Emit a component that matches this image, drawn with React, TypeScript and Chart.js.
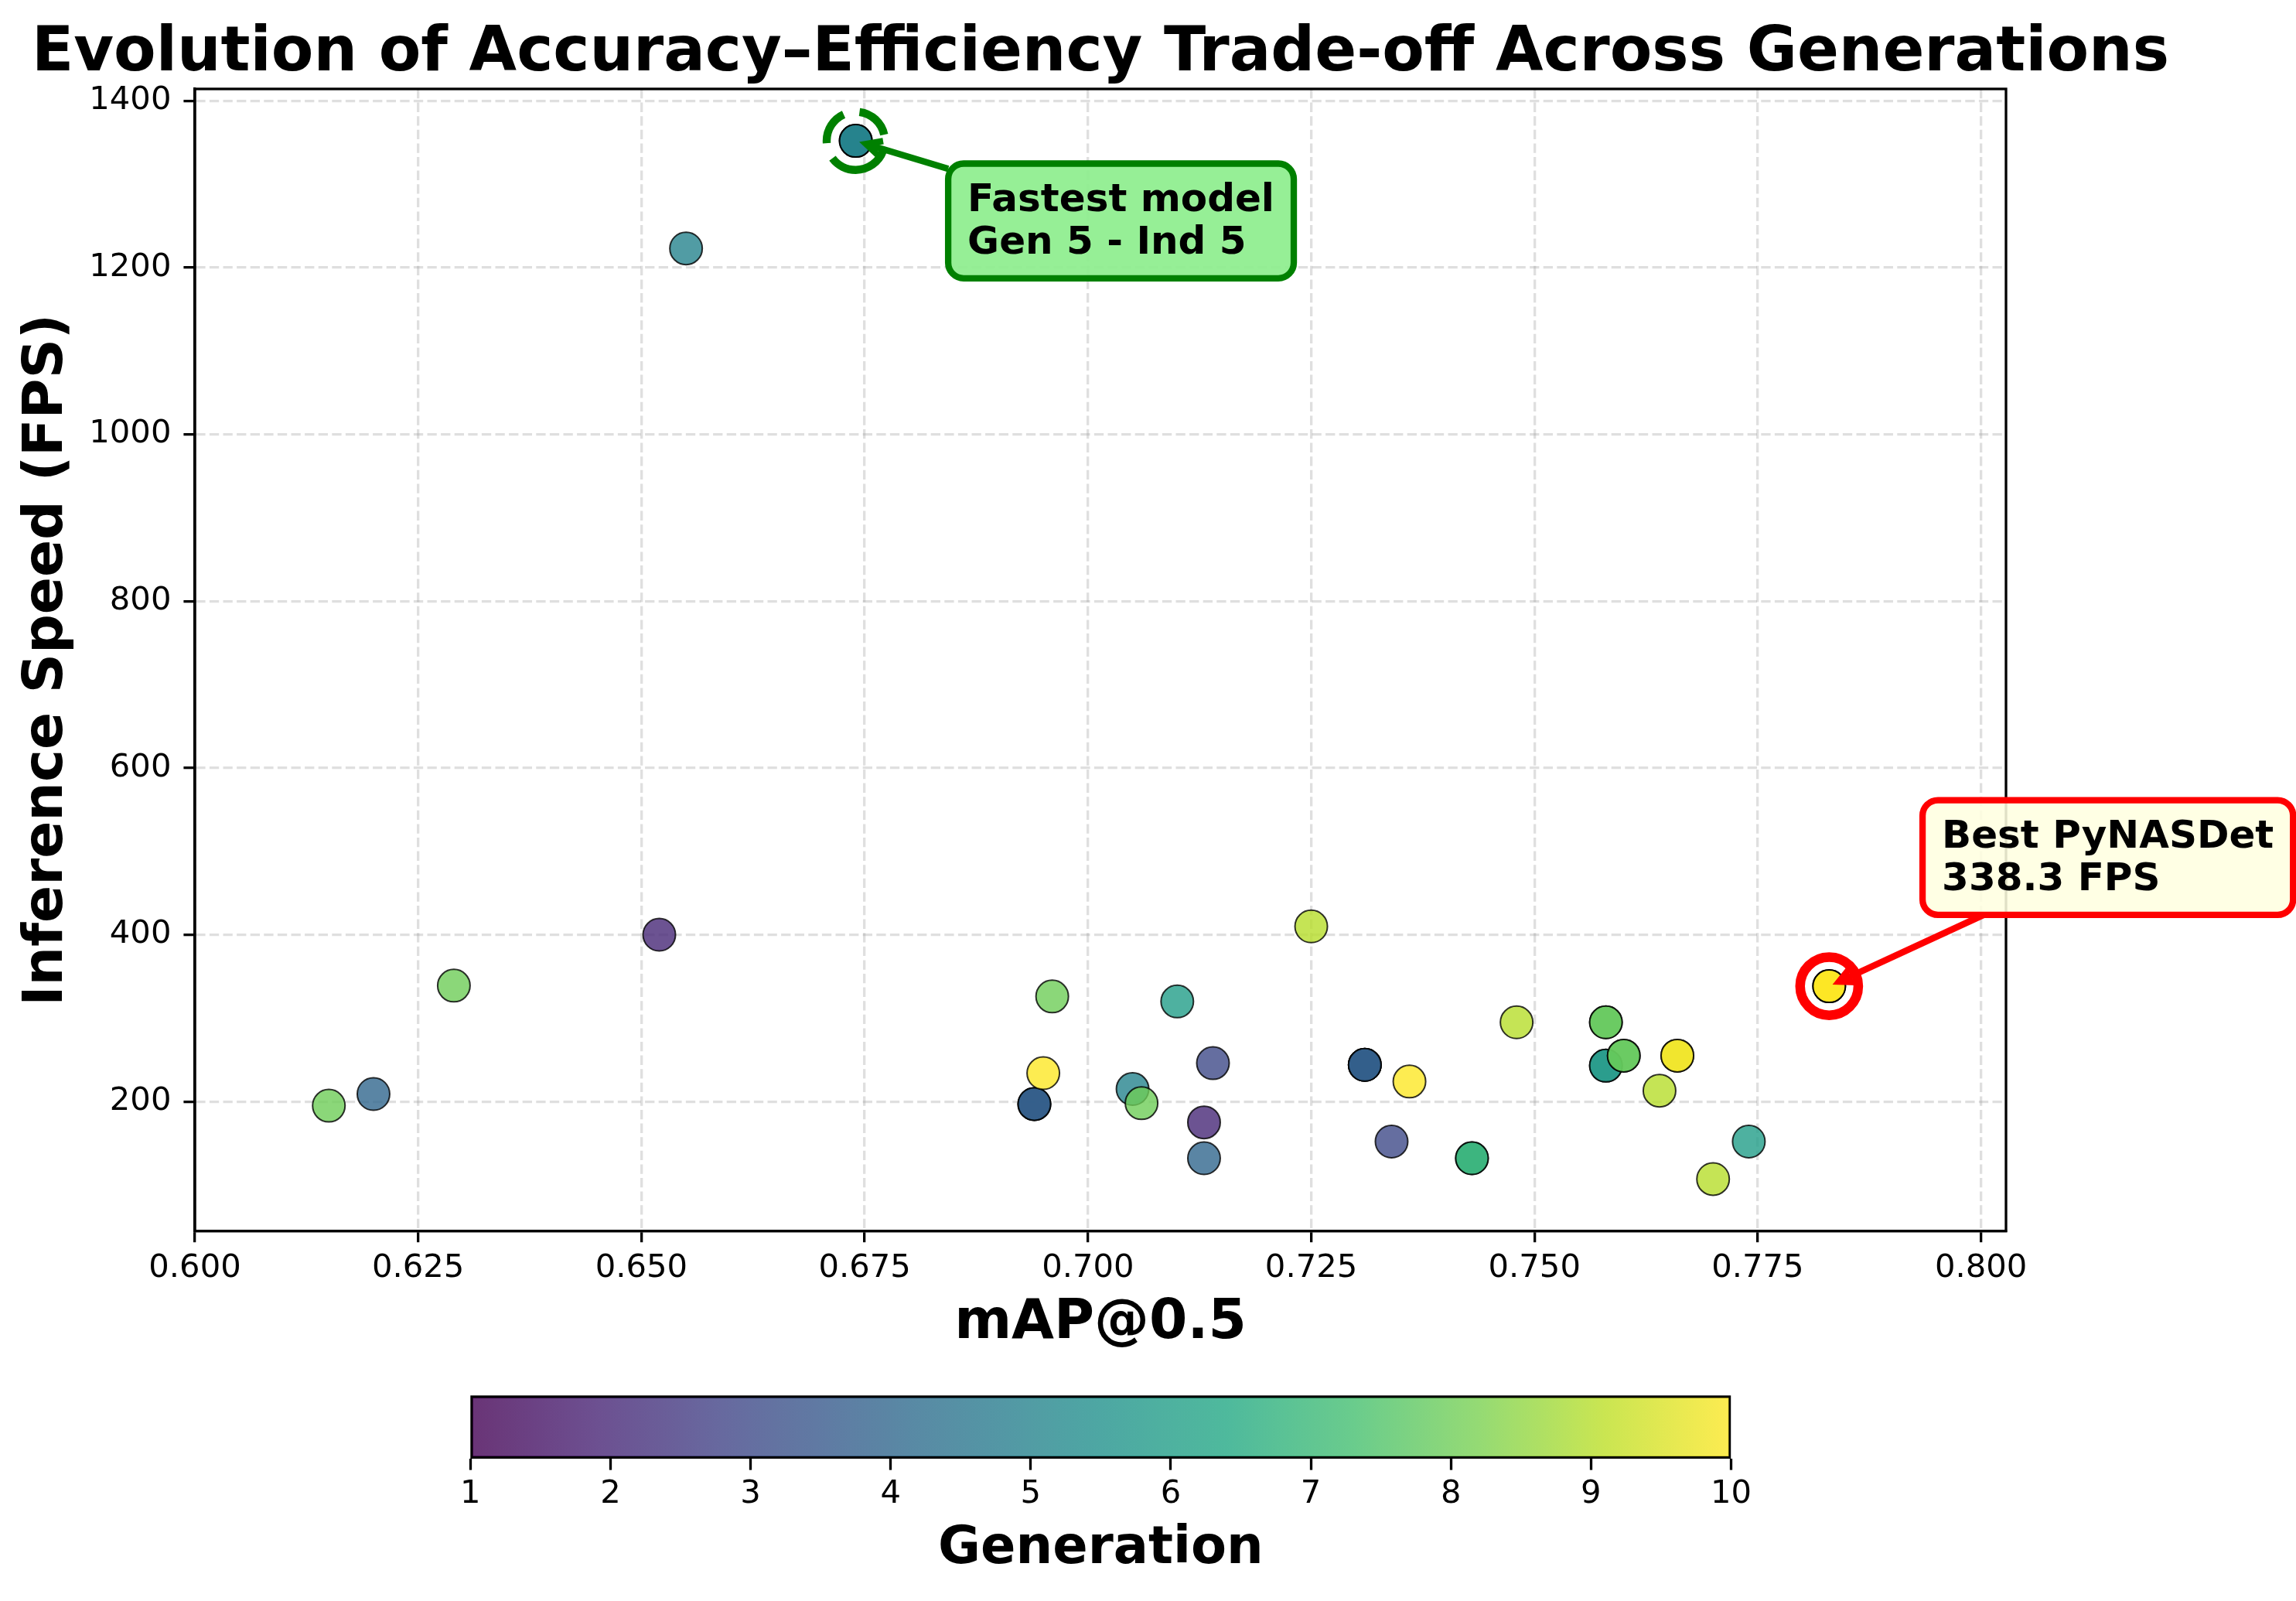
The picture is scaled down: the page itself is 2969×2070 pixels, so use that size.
import React, { useEffect, useRef } from "react";
import { Chart, registerables } from "chart.js";

Chart.register(...registerables);

const FONT = "'DejaVu Sans', sans-serif";
Chart.defaults.font.family = FONT;

// ---------------- data ----------------
// individuals, in the order they were plotted (by generation)
const mapValues = [
  0.694, 0.731,
  0.652, 0.713, 0.731,
  0.714, 0.734, 0.694, 0.731,
  0.620, 0.713, 0.694, 0.731,
  0.655, 0.674, 0.705, 0.758,
  0.710, 0.774, 0.743, 0.758,
  0.743, 0.758, 0.760,
  0.629, 0.615, 0.696, 0.706, 0.758, 0.760,
  0.725, 0.748, 0.764, 0.770, 0.766,
  0.695, 0.736, 0.766, 0.783,
];
const fpsValues = [
  197, 244,
  400, 175, 244,
  246, 152, 197, 244,
  209, 132, 197, 244,
  1223, 1352, 215, 243,
  320, 152, 132, 243,
  132, 295, 255,
  339, 195, 326, 198, 295, 255,
  410, 295, 213, 107, 255,
  234, 224, 255, 338.3,
];
const generations = [
  1, 1,
  2, 2, 2,
  3, 3, 3, 3,
  4, 4, 4, 4,
  5, 5, 5, 5,
  6, 6, 6, 6,
  7, 7, 7,
  8, 8, 8, 8, 8, 8,
  9, 9, 9, 9, 9,
  10, 10, 10, 10,
];

const xTickValues = [0.6, 0.625, 0.65, 0.675, 0.7, 0.725, 0.75, 0.775, 0.8];
const yTickValues = [200, 400, 600, 800, 1000, 1200, 1400];
const generationTicks = [1, 2, 3, 4, 5, 6, 7, 8, 9, 10];
const xLimits = [0.6, 0.8028];
const yLimits = [44.75, 1414.25];

// highlighted individuals
const highlightLabels = [
  ["Fastest model", "Gen 5 - Ind 5"],
  ["Best PyNASDet", "338.3 FPS"],
];
const highlightMap = [0.674, 0.783];
const highlightFps = [1352, 338.3];
const highlightGen = [5, 10];
const highlightTextMap = [0.7037, 0.8142];
const highlightTextFps = [1256, 492.6];

const TITLE = "Evolution of Accuracy\u2013Efficiency Trade-off Across Generations";

// ---------------- styles ----------------
const W = 2969;
const H = 2070;
const CBAR_TOP = 1700;
const CBAR_H = 370;

const highlightStyles = [
  { color: "#008000", face: "rgba(144,238,144,0.95)", ringWidth: 10.4, dash: [46, 21] },
  { color: "#ff0000", face: "rgba(255,255,224,0.88)", ringWidth: 12.5, dash: [] as number[] },
];

const VIRIDIS = [
  [68, 1, 84], [72, 36, 117], [65, 68, 135], [53, 95, 141], [42, 120, 142],
  [33, 145, 140], [34, 168, 132], [68, 191, 112], [122, 209, 81], [189, 223, 38], [253, 231, 37],
];
function viridis(t: number): number[] {
  const c = Math.max(0, Math.min(1, t)) * 10;
  const i = Math.min(9, Math.floor(c));
  const f = c - i;
  return VIRIDIS[i].map((v, k) => Math.round(v + (VIRIDIS[i + 1][k] - v) * f));
}
const genMin = Math.min(...generations);
const genMax = Math.max(...generations);
function genColor(g: number, a: number): string {
  const [r, gg, b] = viridis((g - genMin) / (genMax - genMin));
  return `rgba(${r},${gg},${b},${a})`;
}

function roundedRect(ctx: CanvasRenderingContext2D, x: number, y: number, w: number, h: number, r: number) {
  ctx.beginPath();
  ctx.moveTo(x + r, y);
  ctx.lineTo(x + w - r, y);
  ctx.arcTo(x + w, y, x + w, y + r, r);
  ctx.lineTo(x + w, y + h - r);
  ctx.arcTo(x + w, y + h, x + w - r, y + h, r);
  ctx.lineTo(x + r, y + h);
  ctx.arcTo(x, y + h, x, y + h - r, r);
  ctx.lineTo(x, y + r);
  ctx.arcTo(x, y, x + r, y, r);
  ctx.closePath();
}

const decorPlugin = {
  id: "decor",
  afterDatasetsDraw(chart: any) {
    const { ctx, chartArea: a, scales } = chart;
    const xs = scales.x;
    const ys = scales.y;
    // frame (all four spines)
    ctx.save();
    ctx.strokeStyle = "#000";
    ctx.lineWidth = 3.3;
    ctx.setLineDash([]);
    ctx.strokeRect(a.left, a.top, a.right - a.left, a.bottom - a.top);
    ctx.restore();

    highlightLabels.forEach((lines, i) => {
      const st = highlightStyles[i];
      const px = xs.getPixelForValue(highlightMap[i]);
      const py = ys.getPixelForValue(highlightFps[i]);
      // ring
      ctx.save();
      ctx.strokeStyle = st.color;
      ctx.lineWidth = st.ringWidth;
      ctx.setLineDash(st.dash);
      ctx.beginPath();
      ctx.arc(px, py, 37.6, Math.PI / 2, Math.PI / 2 - 2 * Math.PI, true);
      ctx.stroke();
      ctx.restore();

      // box geometry
      ctx.save();
      ctx.font = `bold 50px ${FONT}`;
      const tw = Math.max(...lines.map((l) => ctx.measureText(l).width));
      const bw = tw + 50;
      const bh = 148.3;
      const cx = xs.getPixelForValue(highlightTextMap[i]);
      const cy = ys.getPixelForValue(highlightTextFps[i]);

      // arrow
      const dx = px - cx;
      const dy = py - cy;
      const t = Math.min(bw / 2 / Math.abs(dx), bh / 2 / Math.abs(dy));
      const sx = cx + dx * t;
      const sy = cy + dy * t;
      const len = Math.hypot(dx, dy);
      const ux = dx / len;
      const uy = dy / len;
      const tipX = px - ux * 14;
      const tipY = py - uy * 14;
      ctx.strokeStyle = st.color;
      ctx.lineWidth = 8.3;
      ctx.lineCap = "butt";
      ctx.lineJoin = "miter";
      ctx.beginPath();
      ctx.moveTo(sx, sy);
      ctx.lineTo(tipX, tipY);
      ctx.stroke();
      const nx = -uy;
      const ny = ux;
      ctx.beginPath();
      ctx.moveTo(tipX - ux * 20 + nx * 10, tipY - uy * 20 + ny * 10);
      ctx.lineTo(tipX, tipY);
      ctx.lineTo(tipX - ux * 20 - nx * 10, tipY - uy * 20 - ny * 10);
      ctx.stroke();

      // box
      roundedRect(ctx, cx - bw / 2, cy - bh / 2, bw, bh, 20);
      ctx.fillStyle = st.face;
      ctx.fill();
      ctx.lineWidth = 8.3;
      ctx.strokeStyle = st.color;
      ctx.stroke();

      // text
      ctx.fillStyle = "#000";
      ctx.textAlign = "left";
      ctx.textBaseline = "alphabetic";
      ctx.fillText(lines[0], cx - bw / 2 + 25, cy - 12.5);
      ctx.fillText(lines[1], cx - bw / 2 + 25, cy + 42);
      ctx.restore();
    });
  },
  afterDraw(chart: any) {
    const { ctx, chartArea: a } = chart;
    ctx.save();
    ctx.font = `bold 79.5px ${FONT}`;
    ctx.fillStyle = "#000";
    ctx.textAlign = "center";
    ctx.textBaseline = "alphabetic";
    ctx.fillText(TITLE, (a.left + a.right) / 2, 90.8);
    ctx.restore();
  },
};

function mainConfig(): any {
  const tickFont = { family: FONT, size: 41.7 };
  return {
    type: "scatter",
    data: {
      datasets: [
        {
          label: "highlighted",
          order: 0,
          data: highlightMap.map((x, i) => ({ x, y: highlightFps[i] })),
          pointBackgroundColor: highlightGen.map((g) => genColor(g, 1)),
          pointBorderColor: "#000",
          pointBorderWidth: 2,
          pointRadius: 21,
        },
        {
          label: "individuals",
          order: 1,
          data: mapValues.map((x, i) => ({ x, y: fpsValues[i] })),
          pointBackgroundColor: generations.map((g) => genColor(g, 0.8)),
          pointBorderColor: "rgba(0,0,0,0.8)",
          pointBorderWidth: 2,
          pointRadius: 21,
        },
      ],
    },
    options: {
      animation: false,
      responsive: false,
      devicePixelRatio: 1,
      events: [],
      layout: { padding: { left: 0, top: 115, right: 375, bottom: H - 1591.6 - 162.6 } },
      plugins: {
        legend: { display: false },
        tooltip: { enabled: false },
        title: { display: false },
      },
      scales: {
        x: {
          type: "linear",
          min: xLimits[0],
          max: xLimits[1],
          afterBuildTicks: (s: any) => {
            s.ticks = xTickValues.map((v) => ({ value: v }));
          },
          afterFit: (s: any) => {
            s.height = 162.6;
          },
          ticks: {
            callback: (v: any) => Number(v).toFixed(3),
            font: tickFont,
            color: "#000",
            padding: 9,
            maxRotation: 0,
            autoSkip: false,
          },
          grid: {
            color: "rgba(150,150,150,0.3)",
            lineWidth: 3.3,
            tickColor: "#000",
            tickWidth: 3.3,
            tickLength: 14.6,
          },
          border: { display: true, color: "#000", width: 3.3, dash: [12.3, 5.3] },
          title: {
            display: true,
            text: "mAP@0.5",
            font: { family: FONT, size: 71, weight: "bold" },
            color: "#000",
            padding: { top: 0, bottom: 0 },
          },
        },
        y: {
          type: "linear",
          min: yLimits[0],
          max: yLimits[1],
          afterBuildTicks: (s: any) => {
            s.ticks = yTickValues.map((v) => ({ value: v }));
          },
          afterFit: (s: any) => {
            s.width = 252;
          },
          ticks: {
            callback: (v: any) => String(v),
            font: tickFont,
            color: "#000",
            padding: 16,
            autoSkip: false,
          },
          grid: {
            color: "rgba(150,150,150,0.3)",
            lineWidth: 3.3,
            tickColor: "#000",
            tickWidth: 3.3,
            tickLength: 14.6,
          },
          border: { display: true, color: "#000", width: 3.3, dash: [12.3, 5.3] },
          title: {
            display: true,
            text: "Inference Speed (FPS)",
            font: { family: FONT, size: 71, weight: "bold" },
            color: "#000",
            padding: { top: 19, bottom: 0 },
          },
        },
      },
    },
    plugins: [decorPlugin],
  };
}

function cbarConfig(): any {
  return {
    type: "bar",
    data: {
      labels: ["Generation"],
      datasets: [
        {
          data: [[genMin, genMax]],
          backgroundColor: (c: any) => {
            const chart = c.chart;
            const xs = chart.scales && chart.scales.x;
            if (!chart.chartArea || !xs) return genColor(genMin, 0.8);
            const x0 = xs.getPixelForValue(genMin);
            const x1 = xs.getPixelForValue(genMax);
            const g = chart.ctx.createLinearGradient(x0, 0, x1, 0);
            for (let k = 0; k <= 40; k++) {
              const t = k / 40;
              g.addColorStop(t, genColor(genMin + t * (genMax - genMin), 0.8));
            }
            return g;
          },
          borderColor: "#000",
          borderWidth: 3.3,
          borderSkipped: false,
          barPercentage: 1,
          categoryPercentage: 1,
        },
      ],
    },
    options: {
      indexAxis: "y",
      animation: false,
      responsive: false,
      devicePixelRatio: 1,
      events: [],
      layout: { padding: { left: 608.3, right: W - 2238.4, top: 104.3, bottom: 0 } },
      plugins: { legend: { display: false }, tooltip: { enabled: false } },
      scales: {
        x: {
          type: "linear",
          min: genMin,
          max: genMax,
          afterBuildTicks: (s: any) => {
            s.ticks = generationTicks.map((v) => ({ value: v }));
          },
          afterFit: (s: any) => {
            s.height = CBAR_H - 186;
          },
          ticks: {
            callback: (v: any) => String(v),
            font: { family: FONT, size: 41.7 },
            color: "#000",
            padding: 7,
            maxRotation: 0,
            autoSkip: false,
          },
          grid: {
            drawOnChartArea: false,
            drawTicks: true,
            tickColor: "#000",
            tickWidth: 3.3,
            tickLength: 14.6,
          },
          border: { display: false },
          title: {
            display: true,
            text: "Generation",
            font: { family: FONT, size: 67, weight: "bold" },
            color: "#000",
            padding: { top: 0, bottom: 26.3 },
          },
        },
        y: { display: false },
      },
    },
  };
}

export default function App() {
  const mainRef = useRef<HTMLCanvasElement>(null);
  const cbarRef = useRef<HTMLCanvasElement>(null);
  useEffect(() => {
    const main = new Chart(mainRef.current as HTMLCanvasElement, mainConfig());
    const cbar = new Chart(cbarRef.current as HTMLCanvasElement, cbarConfig());
    return () => {
      main.destroy();
      cbar.destroy();
    };
  }, []);
  return (
    <div style={{ position: "absolute", left: 0, top: 0, width: W, height: H, background: "#fff" }}>
      <canvas
        ref={mainRef}
        width={W}
        height={H}
        style={{ position: "absolute", left: 0, top: 0, width: W, height: H }}
      />
      <canvas
        ref={cbarRef}
        width={W}
        height={CBAR_H}
        style={{ position: "absolute", left: 0, top: CBAR_TOP, width: W, height: CBAR_H }}
      />
    </div>
  );
}
